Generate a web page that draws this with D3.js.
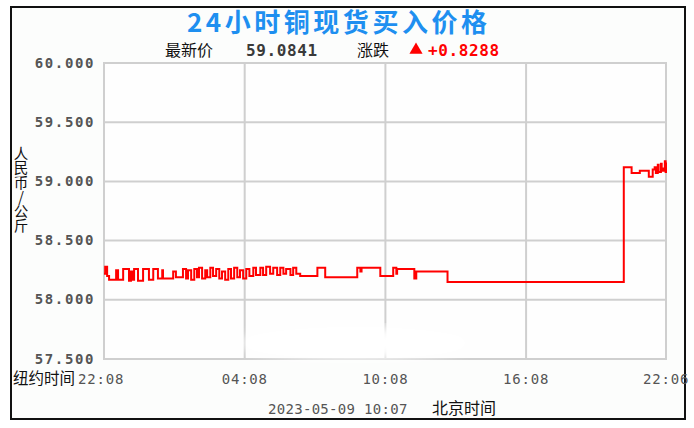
<!DOCTYPE html>
<html>
<head>
<meta charset="utf-8">
<script src="https://cdn.jsdelivr.net/npm/d3@7/dist/d3.min.js"></script>
<style>
  body { margin: 0; background: #fff; }
  svg { display: block; }
</style>
</head>
<body>
<div id="chart"></div>
<script>
(function() {
"use strict";

// minutes after 22:08 New York time, and the buy price at that minute (yuan / kg)
var mins = [0, 3, 8, 13, 31, 36, 49, 64, 69, 72, 77, 87, 100, 115, 126, 138, 149, 151, 177, 184,
  202, 210, 215, 223, 231, 238, 243, 251, 259, 264, 272, 279, 287, 295, 302, 310, 318, 325, 333, 341,
  348, 356, 364, 372, 382, 389, 400, 407, 415, 425, 433, 443, 451, 459, 466, 477, 484, 492, 502, 546,
  566, 648, 656, 659, 707, 740, 748, 750, 794, 799, 879, 1330, 1350, 1371, 1394, 1404, 1409, 1412,
  1417, 1419, 1425, 1427, 1432, 1435, 1437, 1438];
var prices = [58.22, 58.28, 58.20, 58.17, 58.25, 58.17, 58.26, 58.16, 58.24, 58.17, 58.26, 58.16, 58.26, 58.17, 58.26, 58.18, 58.25, 58.18, 58.24, 58.19,
  58.26, 58.18, 58.25, 58.17, 58.26, 58.19, 58.27, 58.18, 58.25, 58.19, 58.27, 58.20, 58.26, 58.18, 58.24, 58.17, 58.26, 58.18, 58.27, 58.19,
  58.25, 58.18, 58.26, 58.20, 58.27, 58.21, 58.27, 58.21, 58.28, 58.22, 58.27, 58.21, 58.27, 58.22, 58.26, 58.21, 58.27, 58.22, 58.20, 58.27,
  58.19, 58.27, 58.24, 58.27, 58.20, 58.27, 58.22, 58.26, 58.18, 58.24, 58.15, 59.12, 59.07, 59.09, 59.04, 59.10, 59.12, 59.07,
  59.14, 59.08, 59.15, 59.09, 59.11, 59.17, 59.08, 59.16];

var xTickMins = [0, 360, 720, 1080, 1438];
var xTickLabels = ["22:08", "04:08", "10:08", "16:08", "22:06"];
var yTicks = [57.5, 58, 58.5, 59, 59.5, 60];

var titleText = "24小时铜现货买入价格";
var latestLabel = "最新价", latestValue = "59.0841";
var changeLabel = "涨跌", changeValue = "+0.8288";
var yTitle = "人民币/公斤";
var nyLabel = "纽约时间";
var stampText = "2023-05-09 10:07", bjLabel = "北京时间";

var width = 694, height = 428;
var mono = "'DejaVu Sans Mono', 'Liberation Mono', monospace";
var cjk = "'Noto Sans CJK SC', sans-serif";

var svg = d3.select("#chart").append("svg")
    .attr("width", width)
    .attr("height", height);

// outer frame
svg.append("rect")
    .attr("x", 11).attr("y", 7)
    .attr("width", 674).attr("height", 412)
    .attr("fill", "#fcfdfc")
    .attr("stroke", "#111")
    .attr("stroke-width", 2);

var x = d3.scaleLinear().domain([0, 1438]).range([104, 666]);
var y = d3.scaleLinear().domain([57.5, 60]).range([359, 63]);

// plot box
svg.append("rect")
    .attr("x", x(0)).attr("y", y(60))
    .attr("width", x(1438) - x(0)).attr("height", y(57.5) - y(60))
    .attr("fill", "#fefefe")
    .attr("stroke", "#cfcfcf")
    .attr("stroke-width", 2);

// grid
svg.append("g").selectAll("line").data(xTickMins.slice(1, -1)).enter().append("line")
    .attr("x1", function(d) { return x(d); }).attr("x2", function(d) { return x(d); })
    .attr("y1", y(60)).attr("y2", y(57.5))
    .attr("stroke", "#cfcfcf").attr("stroke-width", 2);
svg.append("g").selectAll("line").data(yTicks.slice(1, -1)).enter().append("line")
    .attr("x1", x(0)).attr("x2", x(1438))
    .attr("y1", function(d) { return y(d); }).attr("y2", function(d) { return y(d); })
    .attr("stroke", "#cfcfcf").attr("stroke-width", 2);

// soft white smudge near the bottom of the plot
var defs = svg.append("defs");
defs.append("filter").attr("id", "blur").append("feGaussianBlur").attr("stdDeviation", 6);
svg.append("ellipse")
    .attr("cx", 355).attr("cy", 343).attr("rx", 115).attr("ry", 16)
    .attr("fill", "#ffffff").attr("filter", "url(#blur)");

// y tick labels
svg.append("g").selectAll("text").data(yTicks).enter().append("text")
    .attr("x", 95)
    .attr("y", function(d) { return y(d) + 4.5; })
    .attr("text-anchor", "end")
    .attr("font-family", mono).attr("font-weight", "bold")
    .attr("font-size", 14).attr("letter-spacing", 1.6)
    .attr("fill", "#555")
    .text(function(d) { return d3.format(".3f")(d); });

// x tick labels
svg.append("g").selectAll("text").data(xTickMins).enter().append("text")
    .attr("x", function(d, i) { return i === 0 ? 78 : x(d) - 23; })
    .attr("y", 384)
    .attr("font-family", mono).attr("font-size", 14).attr("letter-spacing", 0.8)
    .attr("fill", "#555")
    .text(function(d, i) { return xTickLabels[i]; });

svg.append("text")
    .attr("x", 13).attr("y", 384)
    .attr("font-family", cjk).attr("font-size", 15.5)
    .attr("fill", "#111")
    .text(nyLabel);

// y axis title, written top to bottom
svg.append("text")
    .attr("x", 21).attr("y", 146)
    .style("writing-mode", "vertical-rl")
    .style("text-orientation", "upright")
    .attr("font-family", cjk).attr("font-size", 14.5)
    .attr("fill", "#111")
    .text(yTitle);

// price line
var pts = mins.map(function(m, i) { return [m, prices[i]]; });
var line = d3.line()
    .x(function(d) { return x(d[0]); })
    .y(function(d) { return y(d[1]); })
    .curve(d3.curveStepAfter);
svg.append("path")
    .datum(pts)
    .attr("d", line)
    .attr("fill", "none")
    .attr("stroke", "#ff0000")
    .attr("stroke-width", 2);

// title
svg.append("text")
    .attr("x", 337).attr("y", 32)
    .attr("text-anchor", "middle")
    .attr("font-family", cjk).attr("font-weight", "bold")
    .attr("font-size", 26)
    .attr("textLength", 300).attr("lengthAdjust", "spacing")
    .attr("fill", "#1e8ff0")
    .text(titleText);

// latest / change row
var row = svg.append("g").attr("font-size", 16);
row.append("text").attr("x", 165).attr("y", 56)
    .attr("font-family", cjk).attr("fill", "#111").text(latestLabel);
row.append("text").attr("x", 246).attr("y", 56)
    .attr("font-family", mono).attr("font-weight", "bold").attr("letter-spacing", 0.6)
    .attr("fill", "#3a3a3a").text(latestValue);
row.append("text").attr("x", 357).attr("y", 56)
    .attr("font-family", cjk).attr("fill", "#111").text(changeLabel);
row.append("path")
    .attr("d", d3.symbol().type(d3.symbolTriangle).size(75)())
    .attr("transform", "translate(416,50)")
    .attr("fill", "#ff0000");
row.append("text").attr("x", 428).attr("y", 56)
    .attr("font-family", mono).attr("font-weight", "bold").attr("letter-spacing", 0.6)
    .attr("fill", "#ff0000").text(changeValue);

// footer
svg.append("text")
    .attr("x", 268).attr("y", 414)
    .attr("font-family", mono).attr("font-size", 14).attr("letter-spacing", 0.3)
    .attr("fill", "#555").text(stampText);
svg.append("text")
    .attr("x", 432).attr("y", 414)
    .attr("font-family", cjk).attr("font-size", 16)
    .attr("fill", "#111").text(bjLabel);

})();
</script>
</body>
</html>
